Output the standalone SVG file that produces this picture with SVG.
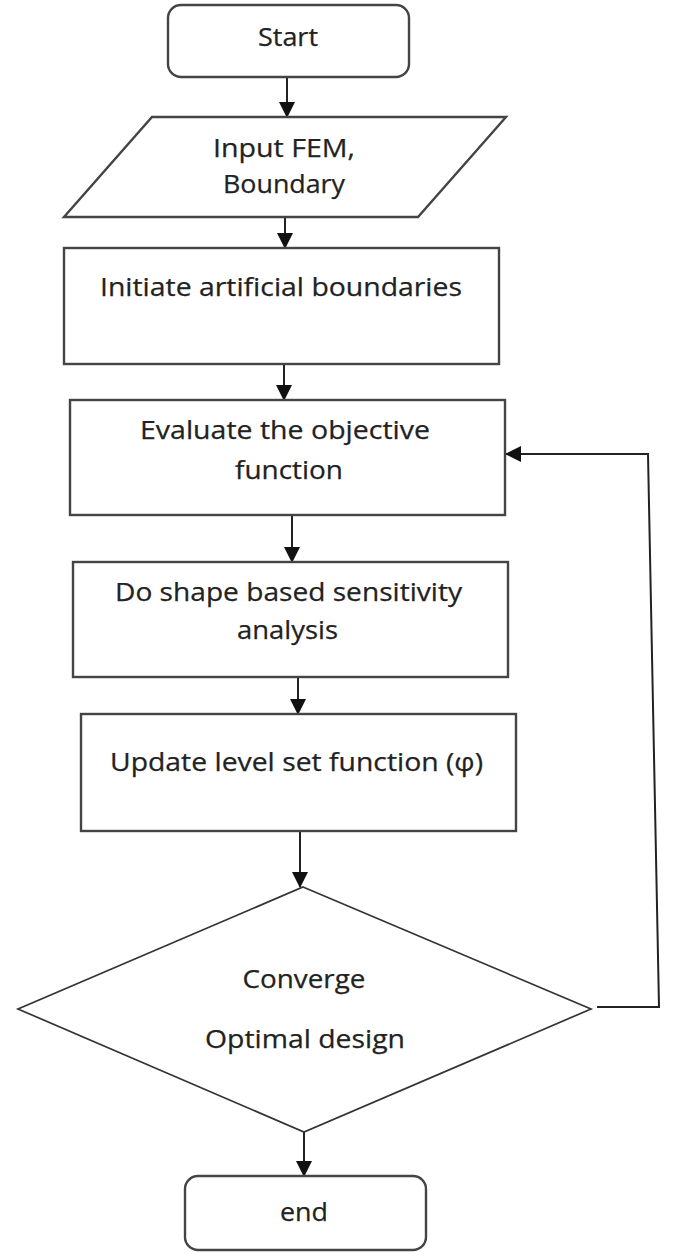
<svg xmlns="http://www.w3.org/2000/svg" width="677" height="1258" viewBox="0 0 677 1258">
<style>
.box{fill:#fff;stroke:#444;stroke-width:2.4}
.dia{fill:#fff;stroke:#333;stroke-width:1.7}
.t{font-family:"Open Sans","Liberation Sans",sans-serif;font-size:26px;fill:#222;text-anchor:middle;stroke:#222;stroke-width:0.25}
.c{fill:none;stroke:#222;stroke-width:2}
</style>
<defs>
<marker id="ah" viewBox="0 0 16 16" refX="15" refY="8" markerWidth="16" markerHeight="16" markerUnits="userSpaceOnUse" orient="auto">
<path d="M0,0 L16,8 L0,16 Z" fill="#111"/>
</marker>
</defs>
<rect width="677" height="1258" fill="#fff"/>
<g id="connectors">
<path class="c" d="M287,77 V117" marker-end="url(#ah)"/>
<path class="c" d="M285,217 V248" marker-end="url(#ah)"/>
<path class="c" d="M284,364 V400" marker-end="url(#ah)"/>
<path class="c" d="M292,515 V562" marker-end="url(#ah)"/>
<path class="c" d="M298,677 V714" marker-end="url(#ah)"/>
<path class="c" d="M300,831 V887" marker-end="url(#ah)"/>
<path class="c" d="M304,1132 V1176" marker-end="url(#ah)"/>
<path class="c" d="M597,1007 H659 L648,454 H506" stroke-width="1.8" marker-end="url(#ah)"/>
</g>
<g id="start">
<rect class="box" x="168" y="5" width="241" height="72" rx="13"/>
<text class="t" x="288" y="46" textLength="60" lengthAdjust="spacingAndGlyphs">Start</text>
</g>
<g id="input">
<polygon class="box" points="152,117 506,117 418,217 64,217"/>
<text class="t" x="284" y="157" textLength="142" lengthAdjust="spacingAndGlyphs">Input FEM,</text>
<text class="t" x="284" y="193" textLength="122" lengthAdjust="spacingAndGlyphs">Boundary</text>
</g>
<g id="initiate">
<rect class="box" x="64" y="248" width="435" height="116"/>
<text class="t" x="281" y="296" textLength="362" lengthAdjust="spacingAndGlyphs">Initiate artificial boundaries</text>
</g>
<g id="evaluate">
<rect class="box" x="70" y="400" width="435" height="115"/>
<text class="t" x="285" y="439" textLength="290" lengthAdjust="spacingAndGlyphs">Evaluate the objective</text>
<text class="t" x="289" y="479" textLength="108" lengthAdjust="spacingAndGlyphs">function</text>
</g>
<g id="sensitivity">
<rect class="box" x="73" y="562" width="435" height="115"/>
<text class="t" x="288.5" y="601" textLength="347" lengthAdjust="spacingAndGlyphs">Do shape based sensitivity</text>
<text class="t" x="287.5" y="639" textLength="101" lengthAdjust="spacingAndGlyphs">analysis</text>
</g>
<g id="update">
<rect class="box" x="81" y="714" width="435" height="117"/>
<text class="t" x="296.5" y="771" textLength="373" lengthAdjust="spacingAndGlyphs">Update level set function (φ)</text>
</g>
<g id="converge">
<polygon class="dia" points="303,887 591,1009 304,1132 18,1009"/>
<text class="t" x="304" y="988" textLength="123" lengthAdjust="spacingAndGlyphs">Converge</text>
<text class="t" x="305" y="1048" textLength="200" lengthAdjust="spacingAndGlyphs">Optimal design</text>
</g>
<g id="end">
<rect class="box" x="185" y="1176" width="241" height="74" rx="13"/>
<text class="t" x="304" y="1221" textLength="48" lengthAdjust="spacingAndGlyphs">end</text>
</g>
</svg>
